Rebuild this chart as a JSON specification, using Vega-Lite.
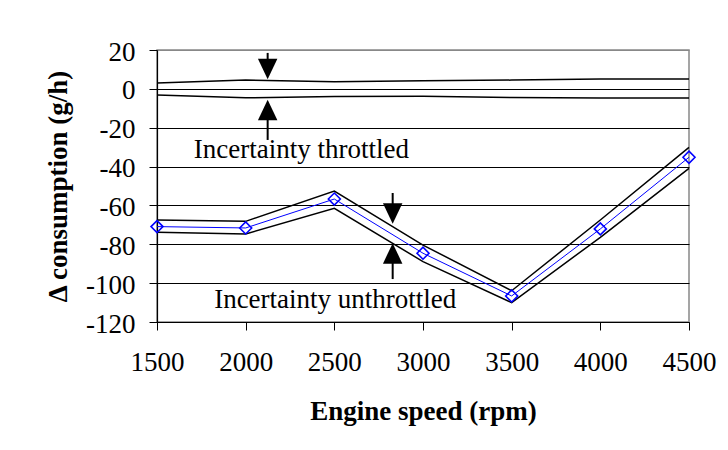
{
  "$schema": "https://vega.github.io/schema/vega-lite/v6.json",
  "width": 532,
  "height": 272,
  "autosize": {"type": "none"},
  "padding": {"left": 157, "top": 50, "right": 39, "bottom": 128},
  "background": "white",
  "config": {
    "font": "Liberation Serif",
    "view": {"stroke": "#888888", "strokeWidth": 1.5},
    "axis": {
      "labelFont": "Liberation Serif",
      "titleFont": "Liberation Serif",
      "labelFontSize": 27,
      "titleFontSize": 27,
      "labelColor": "black",
      "titleColor": "black",
      "titleFontWeight": "bold",
      "domainColor": "black",
      "tickColor": "black",
      "tickSize": 8,
      "tickWidth": 1,
      "domainWidth": 1.2
    }
  },
  "datasets": {
    "unthrottled": [
      {"rpm": 1500, "mean": -70.9, "upper": -67.5, "lower": -73.8},
      {"rpm": 2000, "mean": -71.6, "upper": -68.2, "lower": -74.7},
      {"rpm": 2500, "mean": -56.7, "upper": -52.6, "lower": -61.5},
      {"rpm": 3000, "mean": -84.6, "upper": -80.4, "lower": -88.9},
      {"rpm": 3500, "mean": -106.6, "upper": -103.9, "lower": -110.0},
      {"rpm": 4000, "mean": -72.1, "upper": -67.5, "lower": -76.4},
      {"rpm": 4500, "mean": -35.2, "upper": -30.1, "lower": -40.9}
    ],
    "throttled": [
      {"rpm": 1500, "upper": 3.0, "lower": -3.1},
      {"rpm": 2000, "upper": 4.5, "lower": -4.6},
      {"rpm": 2500, "upper": 3.7, "lower": -3.9},
      {"rpm": 3000, "upper": 4.2, "lower": -3.8},
      {"rpm": 3500, "upper": 4.5, "lower": -4.5},
      {"rpm": 4000, "upper": 5.1, "lower": -4.7},
      {"rpm": 4500, "upper": 5.1, "lower": -4.7}
    ],
    "labels": [
      {"rpm": 2314, "value": -35.7, "text": "Incertainty throttled"},
      {"rpm": 2505, "value": -112.9, "text": "Incertainty unthrottled"}
    ],
    "stems": [
      {"rpm": 2124, "y1": 18.5, "y2": 10},
      {"rpm": 2124, "y1": -11, "y2": -26.3},
      {"rpm": 2829, "y1": -53.6, "y2": -64},
      {"rpm": 2829, "y1": -85, "y2": -97.9}
    ],
    "heads": [
      {"rpm": 2124, "value": 10.2, "dir": "down"},
      {"rpm": 2124, "value": -10.9, "dir": "up"},
      {"rpm": 2829, "value": -64.1, "dir": "down"},
      {"rpm": 2829, "value": -84.7, "dir": "up"}
    ]
  },
  "encoding": {
    "x": {
      "type": "quantitative",
      "scale": {"domain": [1500, 4500], "nice": false, "zero": false},
      "axis": {
        "title": "Engine speed (rpm)",
        "values": [1500, 2000, 2500, 3000, 3500, 4000, 4500],
        "format": "d",
        "grid": false,
        "labelPadding": 19,
        "titlePadding": 23,
        "labelFlush": false
      }
    },
    "y": {
      "type": "quantitative",
      "scale": {"domain": [-120, 20], "nice": false, "zero": false},
      "axis": {
        "title": "Δ consumption (g/h)",
        "values": [-120, -100, -80, -60, -40, -20, 0, 20],
        "labelExpr": "datum.value < 0 ? '-' + abs(datum.value) : '' + datum.value",
        "grid": true,
        "gridColor": {"condition": {"test": "datum.value === 20", "value": "#888888"}, "value": "black"},
        "gridWidth": 1,
        "gridOpacity": 1,
        "labelPadding": 14,
        "labelOffset": 2,
        "titlePadding": 13
      }
    }
  },
  "layer": [
    {
      "data": {"name": "throttled"},
      "mark": {"type": "line", "color": "black", "strokeWidth": 1.5},
      "encoding": {"x": {"field": "rpm"}, "y": {"field": "upper"}}
    },
    {
      "data": {"name": "throttled"},
      "mark": {"type": "line", "color": "black", "strokeWidth": 1.5},
      "encoding": {"x": {"field": "rpm"}, "y": {"field": "lower"}}
    },
    {
      "data": {"name": "unthrottled"},
      "mark": {"type": "line", "color": "black", "strokeWidth": 1.5},
      "encoding": {"x": {"field": "rpm"}, "y": {"field": "upper"}}
    },
    {
      "data": {"name": "unthrottled"},
      "mark": {"type": "line", "color": "black", "strokeWidth": 1.5},
      "encoding": {"x": {"field": "rpm"}, "y": {"field": "lower"}}
    },
    {
      "data": {"name": "unthrottled"},
      "mark": {"type": "line", "color": "#0000ff", "strokeWidth": 1},
      "encoding": {"x": {"field": "rpm"}, "y": {"field": "mean"}}
    },
    {
      "data": {"name": "unthrottled"},
      "mark": {"type": "point", "shape": "diamond", "size": 144, "filled": false, "color": "#0000ff", "strokeWidth": 1.6, "opacity": 1, "clip": false},
      "encoding": {"x": {"field": "rpm"}, "y": {"field": "mean"}}
    },
    {
      "data": {"name": "stems"},
      "mark": {"type": "rule", "color": "black", "strokeWidth": 2},
      "encoding": {"x": {"field": "rpm"}, "y": {"field": "y1"}, "y2": {"field": "y2"}}
    },
    {
      "data": {"name": "heads"},
      "mark": {"type": "point", "filled": true, "color": "black", "size": 420, "opacity": 1},
      "encoding": {
        "x": {"field": "rpm"},
        "y": {"field": "value"},
        "shape": {
          "field": "dir",
          "type": "nominal",
          "scale": {"domain": ["down", "up"], "range": ["M-0.95,-1L0.95,-1L0,1Z", "M-0.95,1L0.95,1L0,-1Z"]},
          "legend": null
        }
      }
    },
    {
      "data": {"name": "labels"},
      "mark": {"type": "text", "font": "Liberation Serif", "fontSize": 27, "color": "black", "align": "center", "baseline": "alphabetic"},
      "encoding": {"x": {"field": "rpm"}, "y": {"field": "value"}, "text": {"field": "text"}}
    }
  ]
}
